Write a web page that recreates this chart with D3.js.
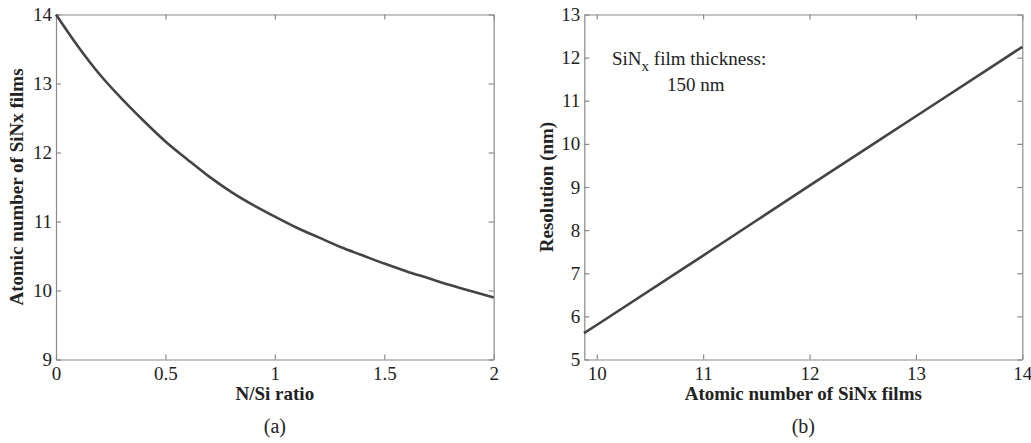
<!DOCTYPE html>
<html>
<head>
<meta charset="utf-8">
<script src="https://cdn.jsdelivr.net/npm/d3@7"></script>
<style>
  body { margin: 0; background: #fff; }
  svg text { font-family: "Liberation Serif", "Times New Roman", serif; fill: #222; }
</style>
</head>
<body>
<svg id="chart" width="1031" height="443"></svg>
<script>
// panel (a): atomic number vs N/Si ratio
var ratio = [0, 0.1, 0.2, 0.3, 0.4, 0.5, 0.6, 0.7, 0.8, 0.9, 1.0,
  1.1, 1.2, 1.3, 1.4, 1.5, 1.6, 1.7, 1.8, 1.9, 2.0]
var atomicA = [14.00, 13.54, 13.13, 12.78, 12.46, 12.16, 11.90, 11.65, 11.43, 11.24, 11.07,
  10.91, 10.77, 10.63, 10.51, 10.39, 10.28, 10.18, 10.08, 9.99, 9.90]
var ticksAX = [0, 0.5, 1, 1.5, 2]
var ticksAY = [9, 10, 11, 12, 13, 14]

// panel (b): resolution vs atomic number
var atomicB = [9.88, 10, 11, 12, 13, 14]
var resolution = [5.61, 5.80, 7.41, 9.03, 10.64, 12.25]
var ticksBX = [10, 11, 12, 13, 14]
var ticksBY = [5, 6, 7, 8, 9, 10, 11, 12, 13]

var svg = d3.select('#chart')
var plotTop = 14.5
var plotBottom = 359.5
var axisColor = '#8a8a8a'
var lineColor = '#444'

function panel(opts) {
  var x = d3.scaleLinear().domain(opts.xDomain).range([opts.left, opts.right])
  var y = d3.scaleLinear().domain(opts.yDomain).range([plotBottom, plotTop])
  var g = svg.append('g')

  function style(sel) {
    sel.selectAll('path, line').attr('stroke', axisColor).attr('stroke-width', 1.2)
    sel.selectAll('text')
      .attr('fill', '#222')
      .style('font-family', '"Liberation Serif", "Times New Roman", serif')
      .style('font-size', '19px')
  }

  g.append('g')
    .attr('transform', 'translate(0,' + plotBottom + ')')
    .call(d3.axisBottom(x).tickValues(opts.xTicks).tickSizeInner(-5).tickSizeOuter(0)
      .tickPadding(7).tickFormat(d3.format('')))
    .call(style)
  g.append('g')
    .attr('transform', 'translate(0,' + plotTop + ')')
    .call(d3.axisTop(x).tickValues(opts.xTicks).tickSizeInner(-5).tickSizeOuter(0).tickFormat(''))
    .call(style)
  g.append('g')
    .attr('transform', 'translate(' + opts.left + ',0)')
    .call(d3.axisLeft(y).tickValues(opts.yTicks).tickSizeInner(-5).tickSizeOuter(0)
      .tickPadding(4).tickFormat(d3.format('')))
    .call(style)
  g.append('g')
    .attr('transform', 'translate(' + opts.right + ',0)')
    .call(d3.axisRight(y).tickValues(opts.yTicks).tickSizeInner(-5).tickSizeOuter(0).tickFormat(''))
    .call(style)

  g.selectAll('.domain').attr('fill', 'none')

  var line = d3.line()
    .x(function (d) { return x(d[0]) })
    .y(function (d) { return y(d[1]) })
    .curve(d3.curveMonotoneX)

  g.append('path')
    .datum(d3.zip(opts.xs, opts.ys))
    .attr('d', line)
    .attr('fill', 'none')
    .attr('stroke', lineColor)
    .attr('stroke-width', 2.6)

  var cx = (opts.left + opts.right) / 2
  g.append('text')
    .attr('x', cx)
    .attr('y', 400)
    .attr('text-anchor', 'middle')
    .style('font-size', '19px')
    .style('font-weight', 'bold')
    .text(opts.xLabel)

  g.append('text')
    .attr('transform', 'translate(' + opts.yLabelX + ',' + ((plotTop + plotBottom) / 2) + ') rotate(-90)')
    .attr('text-anchor', 'middle')
    .style('font-size', '19px')
    .style('font-weight', 'bold')
    .text(opts.yLabel)

  g.append('text')
    .attr('x', cx)
    .attr('y', 433)
    .attr('text-anchor', 'middle')
    .style('font-size', '20px')
    .text(opts.tag)

  return { x: x, y: y, g: g }
}

panel({
  left: 56, right: 493.7,
  xDomain: [0, 2], yDomain: [9, 14],
  xTicks: ticksAX, yTicks: ticksAY,
  xs: ratio, ys: atomicA,
  xLabel: 'N/Si ratio',
  yLabel: 'Atomic number of SiNx films',
  yLabelX: 23,
  tag: '(a)'
})

var b = panel({
  left: 584.3, right: 1022.3,
  xDomain: [9.883, 14], yDomain: [5, 13],
  xTicks: ticksBX, yTicks: ticksBY,
  xs: atomicB, ys: resolution,
  xLabel: 'Atomic number of SiNx films',
  yLabel: 'Resolution (nm)',
  yLabelX: 553,
  tag: '(b)'
})

var note = b.g.append('text')
  .attr('x', 612)
  .attr('y', 65)
  .style('font-size', '19px')
note.append('tspan').text('SiN')
note.append('tspan').attr('dy', 6).style('font-size', '15px').text('x')
note.append('tspan').attr('dy', -6).text(' film thickness:')

b.g.append('text')
  .attr('x', 667)
  .attr('y', 91)
  .style('font-size', '19px')
  .text('150 nm')
</script>
</body>
</html>
